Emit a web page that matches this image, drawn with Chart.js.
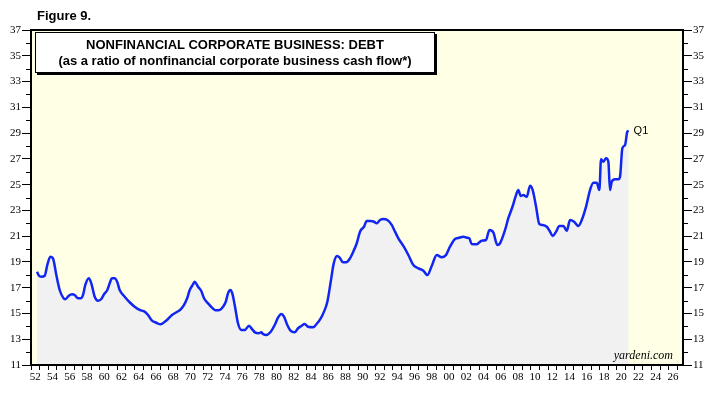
<!DOCTYPE html>
<html>
<head>
<meta charset="utf-8">
<script src="https://cdn.jsdelivr.net/npm/chart.js@4.4.1/dist/chart.umd.min.js"></script>
<style>
html,body{margin:0;padding:0;background:#fff;}
#wrap{position:relative;width:716px;height:393px;overflow:hidden;background:#fff;}
#c{position:absolute;left:0;top:0;}
#fig{position:absolute;left:37px;top:8px;font:bold 13px 'Liberation Sans',Arial,sans-serif;color:#000;line-height:15px;}
#tbox{position:absolute;left:35px;top:32px;width:400px;height:41px;box-sizing:border-box;border:1px solid #000;box-shadow:2px 2px 0 #000;background:#fff;text-align:center;font:bold 13px 'Liberation Sans',Arial,sans-serif;line-height:16px;padding-top:4px;color:#000;}
#src{position:absolute;right:43px;top:349px;font:italic 12px 'Liberation Serif','Times New Roman',serif;line-height:13px;color:#000;}
</style>
</head>
<body>
<div id="wrap">
<canvas id="c" width="716" height="393"></canvas>
<div id="fig">Figure 9.</div>
<div id="tbox">NONFINANCIAL CORPORATE BUSINESS: DEBT<br>(as a ratio of nonfinancial corporate business cash flow*)</div>
<div id="src">yardeni.com</div>
</div>
<script>
// Data (decimal year, debt / cash-flow ratio)
const years = [
1952.70,1952.93,1953.20,1953.59,1953.89,1954.24,1954.55,1954.94,1955.33,1955.71,
1955.98,1956.38,1956.76,1957.07,1957.45,1957.77,1958.03,1958.30,1958.70,1959.00,
1959.39,1959.78,1960.16,1960.47,1960.85,1961.13,1961.40,1961.71,1962.02,1962.29,
1962.87,1963.45,1964.03,1964.61,1965.19,1965.58,1966.04,1966.54,1967.05,1967.52,
1967.90,1968.36,1968.86,1969.37,1969.76,1970.14,1970.42,1970.80,1971.00,1971.38,
1971.76,1972.08,1972.54,1973.00,1973.39,1973.90,1974.28,1974.60,1974.86,1975.13,
1975.36,1975.64,1976.02,1976.41,1976.80,1977.30,1977.65,1978.03,1978.42,1978.73,
1978.92,1979.31,1979.82,1980.28,1980.66,1981.05,1981.36,1981.74,1982.09,1982.60,
1982.99,1983.37,1983.76,1984.15,1984.73,1985.11,1985.62,1986.00,1986.39,1986.78,
1987.13,1987.51,1987.82,1988.21,1988.59,1989.02,1989.40,1989.80,1990.18,1990.64,
1990.96,1991.42,1991.81,1992.12,1992.50,1992.88,1993.35,1993.86,1994.24,1994.63,
1995.21,1995.79,1996.37,1996.95,1997.53,1997.99,1998.50,1999.08,1999.66,2000.16,
2000.62,2001.20,2001.70,2002.17,2002.56,2002.86,2003.14,2003.72,2004.30,2004.80,
2005.19,2005.65,2006.11,2006.43,2007.01,2007.39,2007.90,2008.17,2008.55,2008.83,
2009.13,2009.53,2009.91,2010.22,2010.61,2010.99,2011.38,2011.85,2012.23,2012.54,
2012.93,2013.31,2013.78,2014.17,2014.55,2015.02,2015.52,2015.91,2016.41,2016.87,
2017.26,2017.65,2017.95,2018.15,2018.42,2018.73,2019.00,2019.19,2019.39,2019.77,
2020.15,2020.35,2020.62,2020.93,2021.20,2021.35
];
const ratio = [
18.24,17.93,17.85,17.93,18.76,19.41,19.28,17.98,16.82,16.25,
16.10,16.38,16.49,16.43,16.18,16.18,16.43,17.21,17.73,17.34,
16.30,15.99,16.12,16.49,16.82,17.34,17.73,17.73,17.42,16.82,
16.30,15.87,15.52,15.27,15.14,14.88,14.44,14.28,14.16,14.36,
14.57,14.88,15.09,15.32,15.66,16.22,16.82,17.26,17.46,17.08,
16.74,16.18,15.79,15.45,15.25,15.27,15.52,15.91,16.56,16.82,
16.56,15.66,14.24,13.72,13.72,14.05,13.79,13.51,13.46,13.54,
13.41,13.33,13.58,14.10,14.67,14.96,14.75,14.10,13.69,13.54,
13.85,14.03,14.18,13.97,13.93,14.16,14.62,15.14,15.91,17.46,
18.89,19.46,19.33,18.97,18.97,19.28,19.79,20.45,21.35,21.73,
22.18,22.18,22.12,22.00,22.25,22.33,22.25,21.87,21.35,20.83,
20.24,19.54,18.76,18.50,18.32,17.98,18.68,19.54,19.36,19.54,
20.18,20.78,20.88,20.96,20.88,20.83,20.39,20.37,20.65,20.70,
21.48,21.30,20.31,20.45,21.48,22.39,23.34,23.94,24.58,24.12,
24.19,24.06,24.92,24.58,23.29,21.94,21.87,21.73,21.35,21.01,
21.35,21.79,21.79,21.42,22.25,22.12,21.79,22.25,23.29,24.58,
25.15,25.15,24.58,26.96,26.78,27.04,26.78,24.58,25.23,25.41,
25.41,25.61,27.82,28.07,29.11,29.18
];
const xTickLabels = ['52','54','56','58','60','62','64','66','68','70','72','74','76','78','80','82','84','86','88','90',
  '92','94','96','98','00','02','04','06','08','10','12','14','16','18','20','22','24','26'];
const yTickLabels = ['11','13','15','17','19','21','23','25','27','29','31','33','35','37'];
const lastLabel = 'Q1';

const X_MIN = 1952, X_MAX = 2027.66, Y_MIN = 11, Y_MAX = 37;
const SERIF = "'Liberation Serif','Times New Roman',serif";
const SANS = "'Liberation Sans',Arial,sans-serif";

const xTickValues = [];
for (let y = 1952; y <= 2027; y++) {
  xTickValues.push(y);
  if ((y - 1952) % 2 === 0 && y <= 2026) xTickValues.push(y + 0.5);
}
const yTickValues = [];
for (let v = Y_MIN; v <= Y_MAX; v++) yTickValues.push(v);

const yLabel = v => {
  const i = yTickLabels.indexOf(String(v));
  return i >= 0 ? yTickLabels[i] : '';
};
const tickCol = c => (c.tick && yTickLabels.includes(String(c.tick.value))) ? '#000' : 'rgba(0,0,0,0)';

const bgPlugin = {
  id: 'bg',
  beforeDraw(chart) {
    const a = chart.chartArea, ctx = chart.ctx;
    ctx.save();
    ctx.fillStyle = '#FFFFE6';
    ctx.fillRect(a.left, a.top, a.right - a.left, a.bottom - a.top);
    ctx.restore();
  }
};
const framePlugin = {
  id: 'frame',
  afterDraw(chart) {
    const a = chart.chartArea, ctx = chart.ctx;
    const ys = chart.scales.y;
    ctx.save();
    ctx.strokeStyle = '#000';
    ctx.lineWidth = 1;
    ctx.beginPath();
    yTickValues.forEach(v => {
      if (yTickLabels.includes(String(v))) return;
      const py = Math.round(ys.getPixelForValue(v)) + 0.5;
      ctx.moveTo(a.left - 5, py); ctx.lineTo(a.left, py);
      ctx.moveTo(a.right, py); ctx.lineTo(a.right + 5, py);
    });
    ctx.stroke();
    ctx.lineWidth = 2;
    ctx.strokeRect(a.left, a.top, a.right - a.left, a.bottom - a.top);
    // end label
    const meta = chart.getDatasetMeta(0);
    const last = meta.data[meta.data.length - 1];
    ctx.fillStyle = '#000';
    ctx.font = '11px ' + SANS;
    ctx.textBaseline = 'middle';
    ctx.textAlign = 'left';
    ctx.fillText(lastLabel, last.x + 5, last.y);
    ctx.restore();
  }
};

const yAxis = (pos, w) => ({
  type: 'linear', position: pos, min: Y_MIN, max: Y_MAX,
  afterBuildTicks: s => { s.ticks = yTickValues.map(v => ({ value: v })); },
  afterFit: s => { s.width = w; },
  border: { display: false },
  grid: { drawOnChartArea: false, tickLength: 9, tickColor: tickCol, tickWidth: 1 },
  ticks: { autoSkip: false, padding: 1, color: '#000', font: { family: SERIF, size: 11 }, callback: v => yLabel(v) }
});

new Chart(document.getElementById('c').getContext('2d'), {
  type: 'line',
  data: {
    datasets: [{
      data: years.map((x, i) => ({ x: x, y: ratio[i] })),
      borderColor: '#1226F2',
      borderWidth: 2.5,
      pointRadius: 0,
      fill: 'start',
      backgroundColor: '#F1F1F1',
      cubicInterpolationMode: 'monotone'
    }]
  },
  options: {
    responsive: false,
    animation: false,
    devicePixelRatio: 1,
    layout: { padding: { top: 30, left: 0, right: 0, bottom: 0 } },
    plugins: { legend: { display: false }, tooltip: { enabled: false }, title: { display: false } },
    scales: {
      x: {
        type: 'linear', position: 'bottom', min: X_MIN, max: X_MAX,
        afterBuildTicks: s => { s.ticks = xTickValues.map(v => ({ value: v })); },
        afterFit: s => { s.height = 28; },
        border: { display: false },
        grid: { drawOnChartArea: false, tickLength: 5, tickWidth: 1,
          tickColor: c => (c.tick && Number.isInteger(c.tick.value)) ? '#000' : 'rgba(0,0,0,0)' },
        ticks: { autoSkip: false, maxRotation: 0, minRotation: 0, padding: 1, color: '#000',
          font: { family: SERIF, size: 11 },
          callback: v => {
            if (Number.isInteger(v)) return '';
            const i = Math.round((v - 0.5 - 1952) / 2);
            return xTickLabels[i] || '';
          } }
      },
      y: yAxis('left', 31),
      y2: yAxis('right', 33)
    }
  },
  plugins: [bgPlugin, framePlugin]
});
</script>
</body>
</html>
